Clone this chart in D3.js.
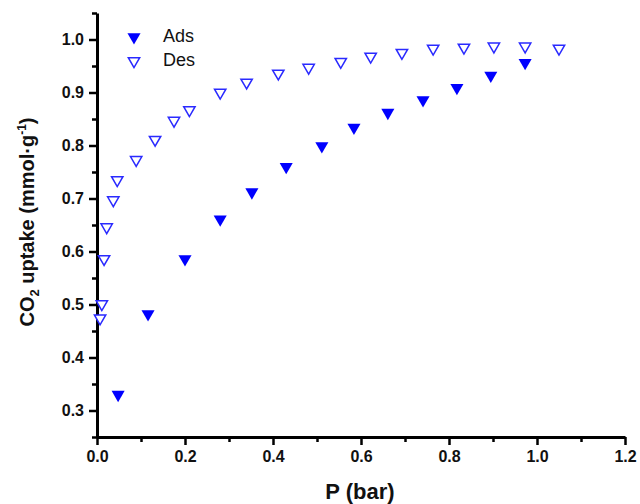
<!DOCTYPE html>
<html>
<head>
<meta charset="utf-8">
<script src="https://cdn.jsdelivr.net/npm/d3@7"></script>
<style>
  body { margin: 0; background: #fff; }
  text { font-family: Arial, "Liberation Sans", sans-serif; }
</style>
</head>
<body>
<div id="chart"></div>
<script>
// adsorption branch (filled)
var adsP = [0.048, 0.116, 0.200, 0.280, 0.352, 0.430, 0.511, 0.584, 0.661, 0.741, 0.818, 0.895, 0.973];
var adsQ = [0.330, 0.482, 0.586, 0.661, 0.712, 0.760, 0.799, 0.834, 0.862, 0.886, 0.909, 0.932, 0.956];

// desorption branch (open)
var desP = [0.007, 0.011, 0.016, 0.022, 0.037, 0.046, 0.089, 0.132, 0.175, 0.210, 0.280, 0.340, 0.412, 0.481, 0.554, 0.622, 0.693, 0.764, 0.834, 0.902, 0.973, 1.050];
var desQ = [0.474, 0.501, 0.586, 0.646, 0.697, 0.735, 0.773, 0.811, 0.847, 0.867, 0.900, 0.919, 0.936, 0.947, 0.958, 0.968, 0.975, 0.983, 0.985, 0.987, 0.987, 0.983];

var xTicks = [0, 0.2, 0.4, 0.6, 0.8, 1.0, 1.2];
var xMinor = [0.1, 0.3, 0.5, 0.7, 0.9, 1.1];
var yTicks = [0.3, 0.4, 0.5, 0.6, 0.7, 0.8, 0.9, 1.0];
var yMinor = [0.25, 0.35, 0.45, 0.55, 0.65, 0.75, 0.85, 0.95, 1.05];

var width = 640, height = 504;
var svg = d3.select("#chart").append("svg").attr("width", width).attr("height", height);

var x = d3.scaleLinear().domain([0, 1.2]).range([97, 625]);
var y = d3.scaleLinear().domain([0.25, 1.05]).range([437, 13]);

// minor ticks first
svg.append("g").attr("transform", "translate(0,437)")
  .call(d3.axisBottom(x).tickValues(xMinor).tickSize(5).tickFormat(""))
  .call(g => g.select(".domain").remove());
svg.append("g").attr("transform", "translate(97,0)")
  .call(d3.axisLeft(y).tickValues(yMinor).tickSize(5).tickFormat(""))
  .call(g => g.select(".domain").remove());

var xAxis = svg.append("g").attr("transform", "translate(0,437)")
  .call(d3.axisBottom(x).tickValues(xTicks).tickSize(8).tickSizeOuter(0).tickPadding(6).tickFormat(d3.format(".1f")));
var yAxis = svg.append("g").attr("transform", "translate(97,0)")
  .call(d3.axisLeft(y).tickValues(yTicks).tickSize(8).tickSizeOuter(0).tickPadding(5).tickFormat(d3.format(".1f")));

svg.selectAll(".tick line").attr("stroke", "#000").attr("stroke-width", 2.5);
svg.selectAll(".domain").attr("stroke", "#000").attr("stroke-width", 3);
svg.selectAll(".tick text").attr("fill", "#111").style("font-size", "16px").style("font-weight", "bold");

// titles
svg.append("text").attr("x", 360).attr("y", 499).attr("text-anchor", "middle")
  .style("font-size", "22px").style("font-weight", "bold").attr("fill", "#111").text("P (bar)");

var yt = svg.append("text").attr("transform", "translate(34,222) rotate(-90)").attr("text-anchor", "middle")
  .style("font-size", "20px").style("font-weight", "bold").attr("fill", "#111");
yt.append("tspan").text("CO");
yt.append("tspan").attr("dy", 5).style("font-size", "13px").text("2");
yt.append("tspan").attr("dy", -5).text(" uptake (mmol·g");
yt.append("tspan").attr("dy", -8).style("font-size", "12px").text("-1");
yt.append("tspan").attr("dy", 8).text(")");

var tri = d3.symbol().type(d3.symbolTriangle);

svg.append("g").selectAll("path").data(desP).join("path")
  .attr("d", tri.size(56)())
  .attr("transform", (d, i) => "translate(" + x(d) + "," + y(desQ[i]) + ") rotate(180)")
  .attr("fill", "#fff").attr("stroke", "#2a2aff").attr("stroke-width", 1.5);

svg.append("g").selectAll("path").data(adsP).join("path")
  .attr("d", tri.size(74)())
  .attr("transform", (d, i) => "translate(" + x(d) + "," + y(adsQ[i]) + ") rotate(180)")
  .attr("fill", "#0000ff");

// legend
var leg = svg.append("g");
leg.append("path").attr("d", tri.size(74)()).attr("transform", "translate(134,37) rotate(180)").attr("fill", "#0000ff");
leg.append("path").attr("d", tri.size(56)()).attr("transform", "translate(134,61) rotate(180)")
  .attr("fill", "#fff").attr("stroke", "#2a2aff").attr("stroke-width", 1.5);
leg.append("text").attr("x", 163).attr("y", 42).style("font-size", "18px").attr("fill", "#111").text("Ads");
leg.append("text").attr("x", 163).attr("y", 66).style("font-size", "18px").attr("fill", "#111").text("Des");
</script>
</body>
</html>
